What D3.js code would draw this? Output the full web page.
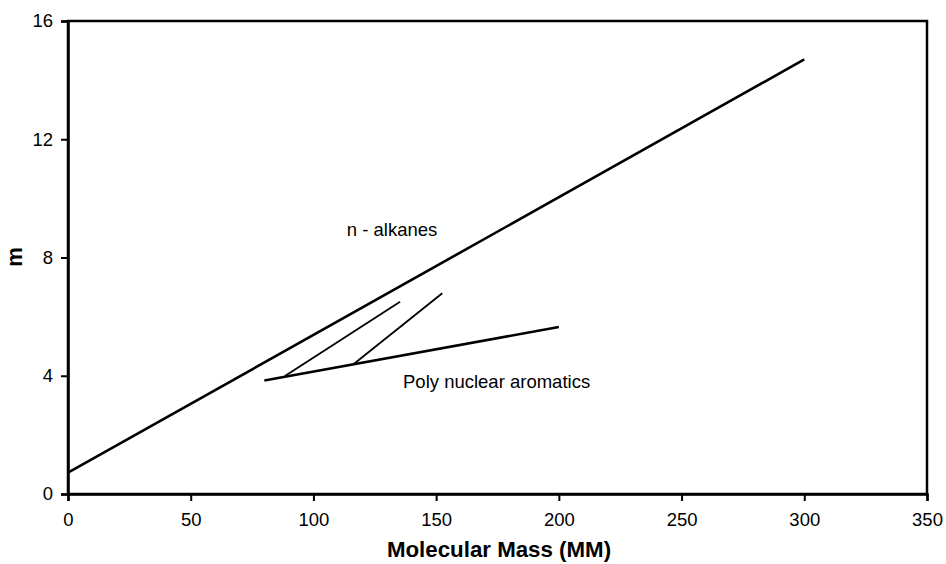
<!DOCTYPE html>
<html><head><meta charset="utf-8">
<script src="https://cdn.jsdelivr.net/npm/d3@7"></script>
<style>body{margin:0;background:#fff}svg{display:block}text{font-family:"Liberation Sans",Arial,sans-serif}</style>
</head><body>
<svg id="c" width="946" height="564"></svg>
<script>
const xTicks = [0, 50, 100, 150, 200, 250, 300, 350];
const yTicks = [0, 4, 8, 12, 16];
const alkanes = [[0, 0.72], [300, 14.7]];
const aromatics = [[80, 3.84], [200, 5.65]];
const branch1 = [[88.4, 3.99], [135.3, 6.5]];
const branch2 = [[116.3, 4.39], [152.5, 6.79]];
const labels = [{text: "n - alkanes", x: 113.6, y: 8.73}, {text: "Poly nuclear aromatics", x: 136.5, y: 3.59}];

const svg = d3.select("#c");
const L = 68, R = 927, T = 21, B = 494;
const x = d3.scaleLinear().domain([0, 350]).range([L, R]);
const y = d3.scaleLinear().domain([0, 16]).range([B, T]);

svg.append("rect").attr("x", L).attr("y", T).attr("width", R - L).attr("height", B - T)
  .attr("fill", "none").attr("stroke", "#000").attr("stroke-width", 2.5);

const xa = svg.append("g").attr("transform", `translate(0,${B})`)
  .call(d3.axisBottom(x).tickValues(xTicks).tickSize(7).tickPadding(12).tickFormat(d3.format("d")));
const ya = svg.append("g").attr("transform", `translate(${L},0)`)
  .call(d3.axisLeft(y).tickValues(yTicks).tickSize(7).tickPadding(8).tickFormat(d3.format("d")));
[xa, ya].forEach(a => {
  a.select(".domain").attr("stroke-width", 2.5);
  a.selectAll(".tick line").attr("stroke-width", 2);
  a.selectAll("text").attr("font-size", 18.5).attr("fill", "#000")
    .style("font-family", '"Liberation Sans",Arial,sans-serif');
});

const line = d3.line().x(d => x(d[0])).y(d => y(d[1]));
svg.append("path").datum(alkanes).attr("d", line).attr("fill", "none").attr("stroke", "#000").attr("stroke-width", 2.6);
svg.append("path").datum(aromatics).attr("d", line).attr("fill", "none").attr("stroke", "#000").attr("stroke-width", 2.6);
[branch1, branch2].forEach(b => svg.append("path").datum(b).attr("d", line)
  .attr("fill", "none").attr("stroke", "#000").attr("stroke-width", 1.8));

svg.selectAll(".lbl").data(labels).enter().append("text")
  .attr("x", d => x(d.x)).attr("y", d => y(d.y)).attr("font-size", 18.5).text(d => d.text);

svg.append("text").attr("x", 499).attr("y", 557).attr("text-anchor", "middle")
  .attr("font-size", 22.3).attr("font-weight", "bold").text("Molecular Mass (MM)");
svg.append("text").attr("transform", "translate(22,257) rotate(-90)").attr("text-anchor", "middle")
  .attr("font-size", 22).attr("font-weight", "bold").text("m");
</script>
</body></html>
